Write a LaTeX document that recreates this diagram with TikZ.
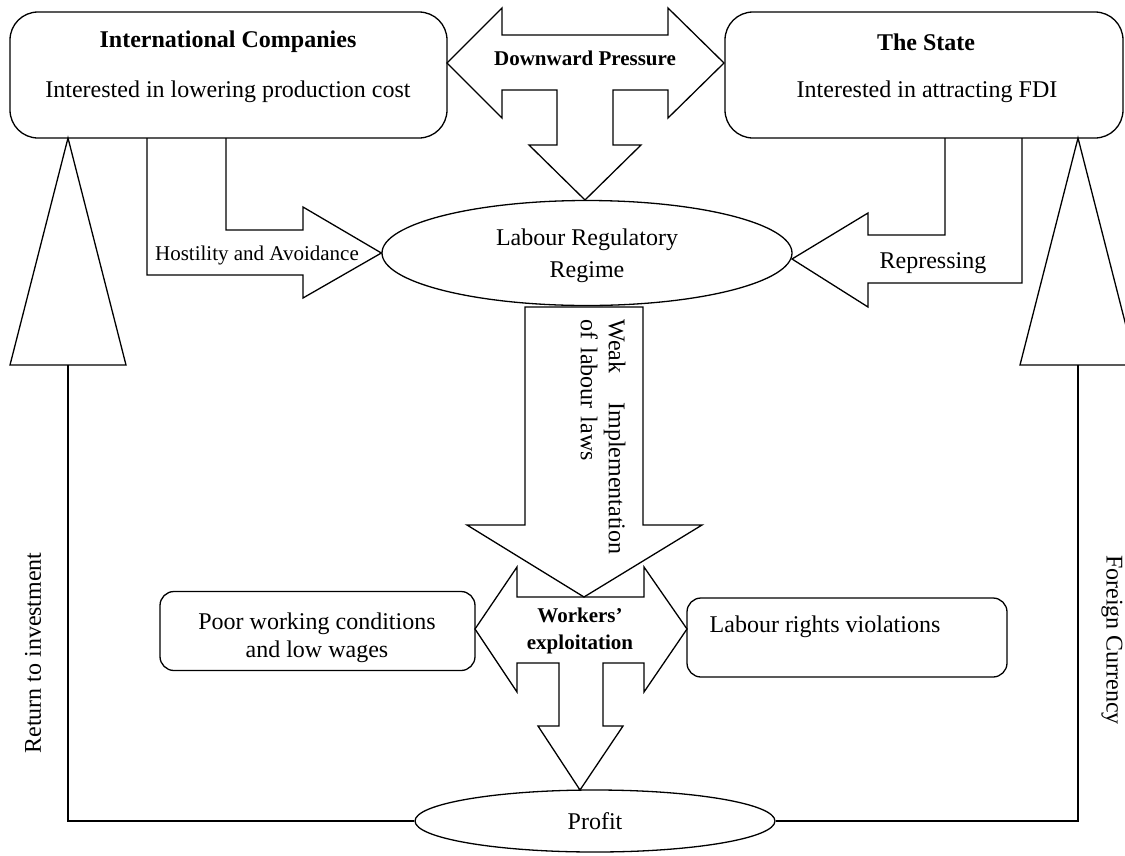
\documentclass[tikz,border=0pt]{standalone}
\usepackage{fontspec}
\setmainfont{Liberation Serif}
\usetikzlibrary{shapes.geometric}
\begin{document}
\begin{tikzpicture}[x=1pt,y=-1pt,line width=1.3pt,line join=miter,
  font=\fontsize{24}{28}\selectfont,
  bigbox/.style={draw,rounded corners=28pt,minimum width=437pt,minimum height=126pt,inner sep=0pt},
  smallbox/.style={draw,rounded corners=14pt,minimum height=79pt,inner sep=0pt},
  oval/.style={draw,ellipse,inner sep=0pt},
  blockarrow/.style={draw},
  title/.style={font=\fontsize{24}{28}\selectfont\bfseries},
  small/.style={font=\fontsize{21}{26}\selectfont},
  smallbold/.style={font=\fontsize{21}{27}\selectfont\bfseries}]
\useasboundingbox (0,0) rectangle (1125,855);

% the two actors
\node[bigbox] (companies) at (228.5,75) {};
\node[title] (companiestitle) at (228,42) {International Companies};
\node (companiesaim) at (228,92) {Interested in lowering production cost};
\node[bigbox,minimum width=398pt] (state) at (924,75) {};
\node[title] (statetitle) at (926,42) {The State};
\node (stateaim) at (927,92) {Interested in attracting FDI};

% regime and profit
\node[oval,minimum width=410pt,minimum height=105pt] (regime) at (587,253) {};
\node[align=center] (regimetext) at (587,256) {Labour Regulatory\\[4pt]Regime};
\node[oval,minimum width=360pt,minimum height=62pt] (profit) at (595,821) {Profit};

% outcomes
\node[smallbox,minimum width=315pt] (poor) at (317.5,631) {};
\node[align=center] (poortext) at (317,638) {Poor working conditions\\and low wages};
\node[smallbox,minimum width=320pt] (violations) at (847,637.5) {};
\node (violationstext) at (825,627) {Labour rights violations};

% downward pressure
\draw[blockarrow] (447,63) -- (502,8) -- (502,35) -- (668,35) -- (668,8) -- (724,63)
  -- (668,118) -- (668,90) -- (613,90) -- (613,145) -- (641,145) -- (585,200)
  -- (529,145) -- (557,145) -- (557,90) -- (502,90) -- (502,118) -- cycle;
\node[smallbold] (pressure) at (585,58) {Downward Pressure};

% hostility and repressing
\draw[blockarrow] (147,138) -- (147,275) -- (303,275) -- (303,298) -- (regime.west)
  -- (303,207) -- (303,230) -- (226,230) -- (226,138);
\node[small] (hostility) at (257,255) {Hostility and Avoidance};
\draw[blockarrow] (945,138) -- (945,235) -- (868,235) -- (868,213) -- (792,259)
  -- (868,307) -- (868,283) -- (1022,283) -- (1022,138);
\node (repressing) at (933,263) {Repressing};

% weak implementation
\draw[blockarrow] (525,307) -- (525,525) -- (467,525) -- (584,597) -- (702,525)
  -- (643,525) -- (643,307) -- cycle;
\node[rotate=-90,text width=235pt,align=left,inner sep=0pt] (weak) at (603,437)
  {Weak\hfill Implementation\\of labour laws};

% workers' exploitation
\draw[blockarrow] (475,629) -- (517,567) -- (517,597) -- (644,597) -- (644,567) -- (687,629)
  -- (644,692) -- (644,663) -- (603,663) -- (603,726) -- (623,726) -- (580,790)
  -- (538,726) -- (559,726) -- (559,663) -- (517,663) -- (517,692) -- cycle;
\node[smallbold,align=center] (exploitation) at (580,631) {Workers'\\exploitation};

% feedback loops
\coordinate (returnbase) at (68,365);
\coordinate (currencybase) at (1078,365);
\draw[blockarrow] (68,138) -- (126,365) -- (10,365) -- cycle;
\draw[blockarrow] (1078,138) -- (1136,365) -- (1020,365) -- cycle;
\draw (profit.west) -| (returnbase);
\draw (profit.east) -| (currencybase);
\node[rotate=90] (returnlabel) at (33,653) {Return to investment};
\node[rotate=-90] (currencylabel) at (1112,640) {Foreign Currency};

\end{tikzpicture}
\end{document}
